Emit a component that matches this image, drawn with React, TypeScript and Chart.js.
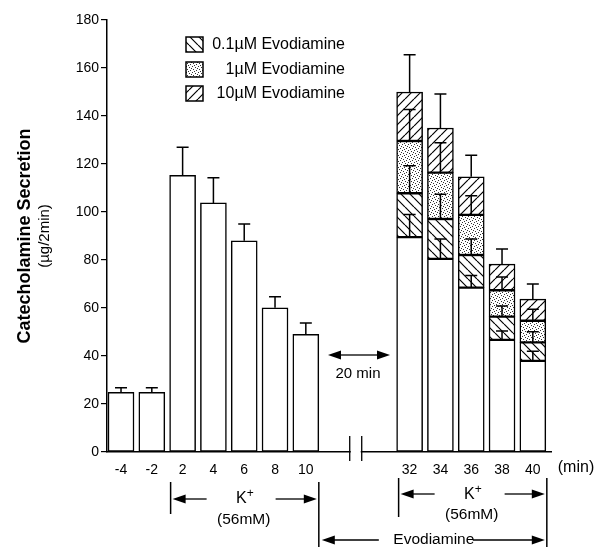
import React, { useEffect, useRef } from "react";
import { Chart, registerables } from "chart.js";
Chart.register(...registerables);

// ---- data ----
const timeLabels = ["-4", "-2", "2", "4", "6", "8", "10", "32", "34", "36", "38", "40"];
const controlTop = [24.9, 24.9, 115.3, 103.8, 88, 60.1, 49, 89.5, 80.5, 68.5, 46.7, 38];
const controlErr = [1.9, 1.9, 11.7, 10.5, 7, 4.6, 4.8, 9.5, 8.3, 5, 3.7, 4];
const evo01Top = [null, null, null, null, null, null, null, 107.8, 97.1, 82.1, 56.4, 45.7];
const evo01Err = [null, null, null, null, null, null, null, 11.5, 10.3, 6.7, 4.4, 4.4];
const evo1Top = [null, null, null, null, null, null, null, 129.6, 116.4, 98.8, 67.4, 54.7];
const evo1Err = [null, null, null, null, null, null, null, 13.1, 12.5, 8, 5.5, 4.8];
const evo10Top = [null, null, null, null, null, null, null, 150, 135, 114.7, 78.3, 63.7];
const evo10Err = [null, null, null, null, null, null, null, 15.5, 14.2, 8.9, 6.3, 6.3];
const yTicks = [0, 20, 40, 60, 80, 100, 120, 140, 160, 180];
const legendLabels = ["0.1\u00b5M Evodiamine", "1\u00b5M Evodiamine", "10\u00b5M Evodiamine"];

// layout
const GAP = 2.37;
const slotPos = timeLabels.map((_, i) => (i < 7 ? i : i + GAP));
const FONT = "'Liberation Sans', Arial, Helvetica, sans-serif";

function makePattern(kind: string): CanvasPattern | string {
  const s = kind === "dots" ? 6 : 9;
  const c = document.createElement("canvas");
  c.width = s;
  c.height = s;
  const g = c.getContext("2d")!;
  g.fillStyle = "#fff";
  g.fillRect(0, 0, s, s);
  if (kind === "dots") {
    g.fillStyle = "#333";
    [[0, 0], [3, 1], [1, 3], [4, 4], [5, 2], [2, 5]].forEach(([x, y]) => g.fillRect(x, y, 1, 1));
  } else {
    g.strokeStyle = "#000";
    g.lineWidth = 1.2;
    g.beginPath();
    for (const k of [-s, 0, s]) {
      if (kind === "back") {
        g.moveTo(k, 0);
        g.lineTo(k + s, s);
      } else {
        g.moveTo(k, s);
        g.lineTo(k + s, 0);
      }
    }
    g.stroke();
  }
  return g.createPattern(c, "repeat")!;
}

function floating(lo: (number | null)[], hi: (number | null)[]) {
  const out: { x: number; y: [number, number] }[] = [];
  hi.forEach((h, i) => {
    if (h != null && lo[i] != null) out.push({ x: slotPos[i], y: [lo[i] as number, h] });
  });
  return out;
}

export default function App() {
  const ref = useRef<HTMLCanvasElement>(null);
  useEffect(() => {
    const pBack = makePattern("back");
    const pDots = makePattern("dots");
    const pFwd = makePattern("fwd");
    const zeros = controlTop.map(() => 0);

    const common = {
      borderColor: "#000",
      borderWidth: 1.5,
      borderSkipped: false as const,
      barThickness: 26,
      grouped: false,
    };

    const extras = {
      id: "extras",
      afterDatasetsDraw(chart: any) {
        const ctx = chart.ctx as CanvasRenderingContext2D;
        const xs = chart.scales.x;
        const ys = chart.scales.y;
        const xp = (i: number) => xs.getPixelForValue(slotPos[i]);
        const yp = (v: number) => ys.getPixelForValue(v);
        ctx.save();
        ctx.strokeStyle = "#000";
        ctx.lineWidth = 1.5;
        const series: [(number | null)[], (number | null)[]][] = [
          [controlTop, controlErr],
          [evo01Top, evo01Err],
          [evo1Top, evo1Err],
          [evo10Top, evo10Err],
        ];
        series.forEach(([tops, errs]) => {
          tops.forEach((t, i) => {
            if (t == null || errs[i] == null) return;
            const x = xp(i);
            const y0 = yp(t);
            const y1 = yp(t + (errs[i] as number));
            ctx.beginPath();
            ctx.moveTo(x, y0);
            ctx.lineTo(x, y1);
            ctx.moveTo(x - 6, y1);
            ctx.lineTo(x + 6, y1);
            ctx.stroke();
          });
        });
        ctx.restore();
      },
      afterDraw(chart: any) {
        const ctx = chart.ctx as CanvasRenderingContext2D;
        const xs = chart.scales.x;
        const area = chart.chartArea;
        const xp = (i: number) => xs.getPixelForValue(slotPos[i]);
        const half = 13;
        ctx.save();
        ctx.fillStyle = "#000";
        ctx.strokeStyle = "#000";

        // axis break
        const bx = (xp(6) + xp(7)) / 2 - 2;
        ctx.fillStyle = "#fff";
        ctx.fillRect(bx - 5, area.bottom - 3, 10, 6);
        ctx.strokeStyle = "#000";
        ctx.fillStyle = "#000";
        ctx.lineWidth = 1.3;
        ctx.beginPath();
        ctx.moveTo(bx - 6, area.bottom - 16);
        ctx.lineTo(bx - 6, area.bottom + 9);
        ctx.moveTo(bx + 6, area.bottom - 16);
        ctx.lineTo(bx + 6, area.bottom + 9);
        ctx.stroke();

        // legend
        const pats = [pBack, pDots, pFwd];
        const ly = [44, 69, 93];
        ctx.font = `16px ${FONT}`;
        ctx.textAlign = "right";
        ctx.textBaseline = "middle";
        pats.forEach((p, k) => {
          ctx.fillStyle = p as any;
          ctx.fillRect(186, ly[k] - 7, 17, 15);
          ctx.lineWidth = 1.5;
          ctx.strokeRect(186, ly[k] - 7, 17, 15);
          ctx.fillStyle = "#000";
          ctx.fillText(legendLabels[k], 345, ly[k] + 1);
        });

        // y title
        ctx.save();
        ctx.translate(25, 236);
        ctx.rotate(-Math.PI / 2);
        ctx.textAlign = "center";
        ctx.font = `bold 18px ${FONT}`;
        ctx.fillText("Catecholamine Secretion", 0, 0);
        ctx.font = `15px ${FONT}`;
        ctx.fillText("(\u00b5g/2min)", 0, 20);
        ctx.restore();

        // (min)
        ctx.font = `16px ${FONT}`;
        ctx.textAlign = "center";
        ctx.fillText("(min)", 576, 468);

        const arrow = (x1: number, x2: number, y: number) => {
          const dir = Math.sign(x2 - x1);
          ctx.lineWidth = 1.3;
          ctx.beginPath();
          ctx.moveTo(x1, y);
          ctx.lineTo(x2 - dir * 10, y);
          ctx.stroke();
          ctx.beginPath();
          ctx.moveTo(x2, y);
          ctx.lineTo(x2 - dir * 13, y - 4.5);
          ctx.lineTo(x2 - dir * 13, y + 4.5);
          ctx.closePath();
          ctx.fill();
        };
        const vline = (x: number, y1: number, y2: number) => {
          ctx.lineWidth = 1.5;
          ctx.beginPath();
          ctx.moveTo(x, y1);
          ctx.lineTo(x, y2);
          ctx.stroke();
        };
        const kplus = (cx: number, y: number) => {
          ctx.font = `16px ${FONT}`;
          ctx.textAlign = "right";
          ctx.fillText("K", cx + 3, y);
          ctx.font = `12px ${FONT}`;
          ctx.textAlign = "left";
          ctx.fillText("+", cx + 3, y - 5);
        };

        // 20 min
        const mx1 = 328, mx2 = 390, my = 355;
        arrow((mx1 + mx2) / 2, mx1, my);
        arrow((mx1 + mx2) / 2, mx2, my);
        ctx.font = `15px ${FONT}`;
        ctx.textAlign = "center";
        ctx.fillText("20 min", 358, 374);

        // left K+
        const lL = xp(2) - half + 1;
        const lR = xp(6) + half;
        vline(lL, 482, 514);
        vline(lR, 482, 547);
        arrow(lL + 36, lL + 2, 499);
        arrow(lL + 105, lR - 2, 499);
        const lc = (lL + lR) / 2 - 1;
        kplus(lc, 499);
        ctx.font = `15.5px ${FONT}`;
        ctx.textAlign = "center";
        ctx.fillText("(56mM)", lc, 520);

        // right K+
        const rL = xp(7) - half + 2;
        const rR = xp(11) + half + 1;
        vline(rL, 478, 517);
        vline(rR, 478, 547);
        arrow(rL + 36, rL + 2, 494);
        arrow(rL + 106, rR - 2, 494);
        const rc = (rL + rR) / 2 - 1;
        kplus(rc, 495);
        ctx.font = `15.5px ${FONT}`;
        ctx.textAlign = "center";
        ctx.fillText("(56mM)", rc, 515);

        // Evodiamine
        arrow(lR + 60, lR + 3, 540);
        arrow(lR + 154, rR - 2, 540);
        ctx.font = `15.5px ${FONT}`;
        ctx.textAlign = "center";
        ctx.fillText("Evodiamine", (lR + rR) / 2 + 1, 540);

        ctx.restore();
      },
    };

    const chart = new Chart(ref.current!, {
      type: "bar",
      data: {
        datasets: [
          { ...common, data: floating(zeros, controlTop) as any, backgroundColor: "#fff" },
          { ...common, data: floating(controlTop, evo01Top) as any, backgroundColor: pBack as any },
          { ...common, data: floating(evo01Top, evo1Top) as any, backgroundColor: pDots as any },
          { ...common, data: floating(evo1Top, evo10Top) as any, backgroundColor: pFwd as any },
        ],
      },
      options: {
        responsive: false,
        animation: false,
        events: [],
        layout: { padding: { top: 20, right: 44, left: 0, bottom: 0 } },
        plugins: { legend: { display: false }, tooltip: { enabled: false } },
        scales: {
          x: {
            type: "linear",
            offset: false,
            min: -0.455,
            max: 13.96,
            grid: { display: false, drawTicks: false, offset: false },
            border: { display: true, color: "#000", width: 1.5 },
            afterBuildTicks: (s: any) => {
              s.ticks = slotPos.map((v) => ({ value: v }));
            },
            afterFit: (s: any) => {
              s.height = 95;
            },
            ticks: {
              autoSkip: false,
              maxRotation: 0,
              padding: 10,
              color: "#000",
              font: { family: FONT, size: 14 },
              callback: (_v: any, i: number) => timeLabels[i],
            },
          },
          y: {
            min: 0,
            max: 180,
            grid: { display: true, drawOnChartArea: false, drawTicks: true, tickLength: 6, color: "#000", lineWidth: 1.2 },
            border: { display: true, color: "#000", width: 1.5 },
            afterBuildTicks: (s: any) => {
              s.ticks = yTicks.map((v) => ({ value: v }));
            },
            afterFit: (s: any) => {
              s.width = 107;
            },
            ticks: {
              padding: 2,
              color: "#000",
              font: { family: FONT, size: 14 },
            },
          },
        },
      },
      plugins: [extras],
    });
    return () => chart.destroy();
  }, []);

  return (
    <div style={{ position: "fixed", left: 0, top: 0, width: 595, height: 547, background: "#fff" }}>
      <canvas ref={ref} width={595} height={547} style={{ display: "block" }} />
    </div>
  );
}
